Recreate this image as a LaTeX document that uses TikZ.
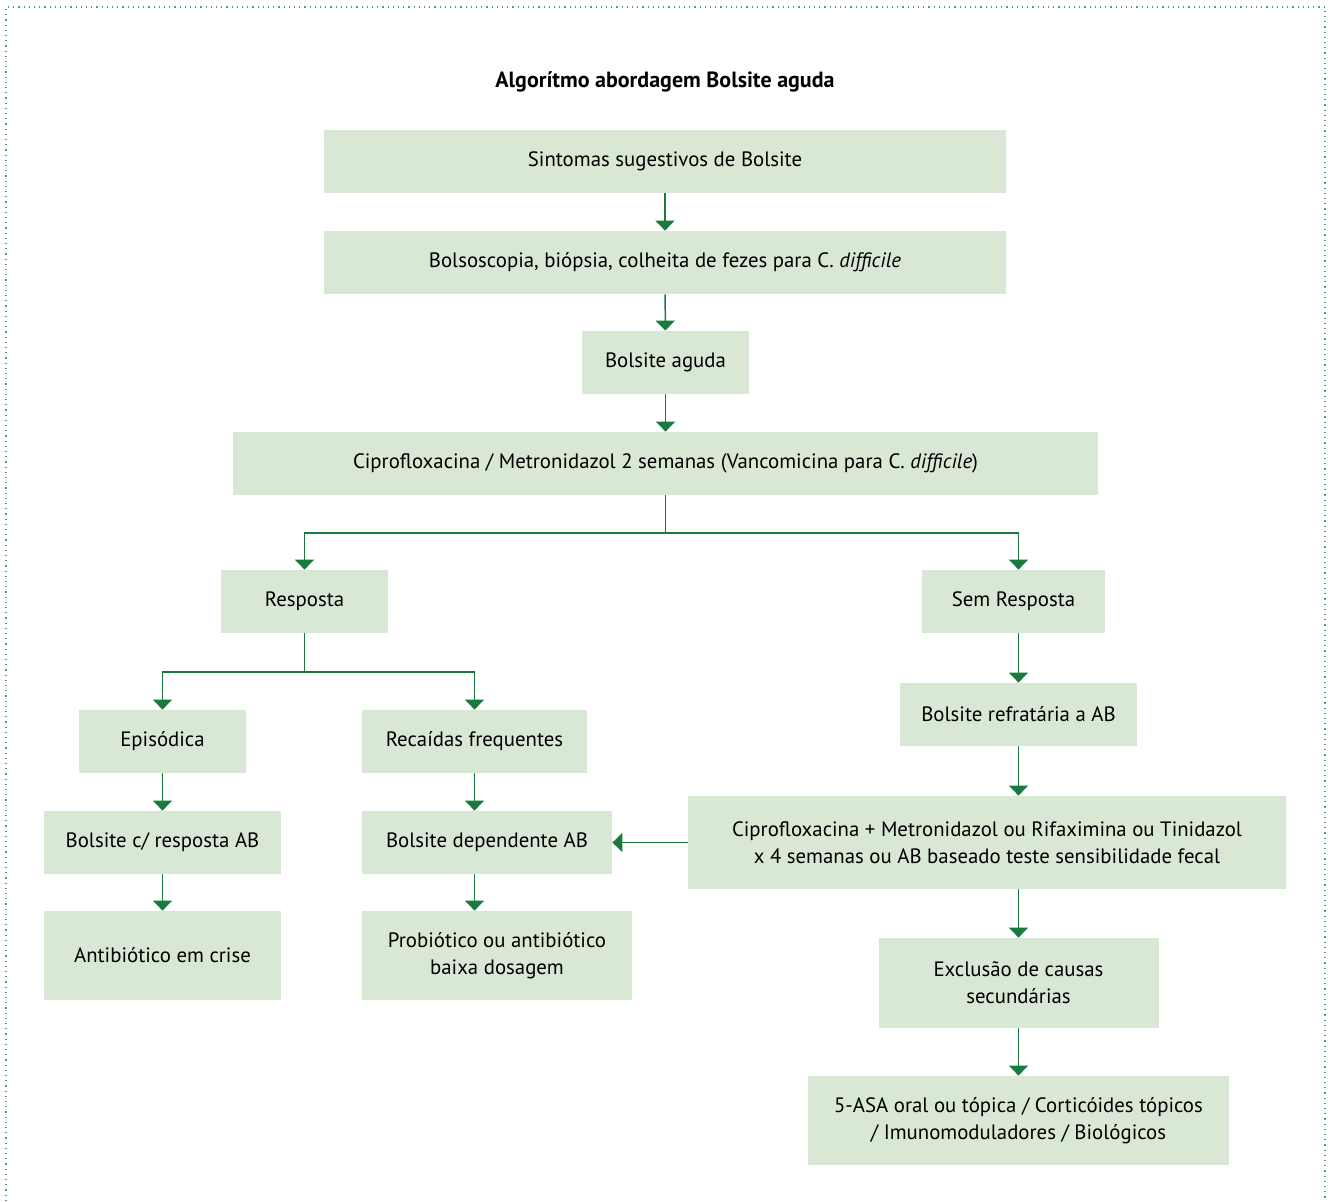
\documentclass[tikz,border=0pt]{standalone}
\usepackage{fontspec}
\setmainfont{PT Sans}
\usetikzlibrary{arrows.meta,positioning}
\definecolor{boxgreen}{RGB}{217,232,212}
\definecolor{arrowgreen}{RGB}{24,122,60}
\definecolor{frameblue}{RGB}{70,150,185}
\tikzset{
    algbox/.style={fill=boxgreen, align=center, inner sep=0pt,
        font=\fontsize{10.4}{13.5}\selectfont},
    algarrow/.style={-{Triangle[length=5pt,width=9.5pt]}, arrowgreen, line width=0.75pt}
}

\begin{document}
\begin{tikzpicture}[x=0.5pt, y=-0.5pt]
\useasboundingbox (0,0) rectangle (1331,1201);
\draw[frameblue, dotted, line width=0.6pt] (6,1201) -- (6,7) -- (1325,7) -- (1325,1201);

\node[font=\fontsize{11}{13}\selectfont\bfseries] (title) at (665,82) {Algorítmo abordagem Bolsite aguda};

% main column
\node[algbox, minimum width=341pt, minimum height=31.5pt] (sint) at (665,161.5) {Sintomas sugestivos de Bolsite};
\node[algbox, minimum width=341pt, minimum height=31.5pt] (bolso) at (665,262.5) {Bolsoscopia, biópsia, colheita de fezes para C. \textit{difficile}};
\node[algbox, minimum width=83.5pt, minimum height=31.5pt] (aguda) at (665.5,362.5) {Bolsite aguda};
\node[algbox, minimum width=432.5pt, minimum height=31.5pt] (cipro) at (665.5,463.5) {Ciprofloxacina / Metronidazol 2 semanas (Vancomicina para C. \textit{difficile})};

% left branch
\node[algbox, minimum width=83.5pt, minimum height=31.5pt] (resp) at (304.5,601.5) {Resposta};
\node[algbox, minimum width=83.5pt, minimum height=31.5pt] (epis) at (162.5,741.5) {Episódica};
\node[algbox, minimum width=112.5pt, minimum height=31.5pt] (recai) at (474.5,741.5) {Recaídas frequentes};
\node[algbox, minimum width=118.5pt, minimum height=31.5pt] (bresp) at (162.5,842.5) {Bolsite c/ resposta AB};
\node[algbox, minimum width=125pt, minimum height=31.5pt] (bdep) at (487,842.5) {Bolsite dependente AB};
\node[algbox, minimum width=118.5pt, minimum height=44.5pt] (crise) at (162.5,955.5) {Antibiótico em crise};
\node[algbox, minimum width=135pt, minimum height=44.5pt] (probio) at (497,955.5) {Probiótico ou antibiótico\\baixa dosagem};

% right branch
\node[algbox, minimum width=91.5pt, minimum height=31.5pt] (semresp) at (1013.5,601.5) {Sem Resposta};
\node[algbox, minimum width=118.5pt, minimum height=31.5pt] (refrat) at (1018.5,714.5) {Bolsite refratária a AB};
\node[algbox, minimum width=299pt, minimum height=46.5pt] (cipmet) at (987,842.5) {Ciprofloxacina + Metronidazol ou Rifaximina ou Tinidazol\\x 4 semanas ou AB baseado teste sensibilidade fecal};
\node[algbox, minimum width=140pt, minimum height=45pt] (exclus) at (1018.5,983) {Exclusão de causas\\secundárias};
\node[algbox, minimum width=210.5pt, minimum height=44.5pt] (asa) at (1018.5,1120.5) {5-ASA oral ou tópica / Corticóides tópicos\\/ Imunomoduladores / Biológicos};

\coordinate (split) at (665.5,533);
\coordinate (splitresp) at (304.5,672);

\draw[algarrow] (sint) -- (bolso);
\draw[algarrow] (bolso) -- (aguda);
\draw[algarrow] (aguda) -- (cipro);
\draw[arrowgreen, line width=0.75pt] (cipro) -- (split);
\draw[algarrow] (split) -| (resp.north);
\draw[algarrow] (split) -| (refrat.north |- semresp.north);
\draw[arrowgreen, line width=0.75pt] (resp) -- (splitresp);
\draw[algarrow] (splitresp) -| (epis.north);
\draw[algarrow] (splitresp) -| (recai.north);
\draw[algarrow] (epis) -- (bresp);
\draw[algarrow] (bresp) -- (crise);
\draw[algarrow] (recai.south) -- (recai.south |- bdep.north);
\draw[algarrow] (recai.south |- bdep.south) -- (recai.south |- probio.north);
\draw[algarrow] (refrat.north |- semresp.south) -- (refrat.north);
\draw[algarrow] (refrat.south) -- (refrat.south |- cipmet.north);
\draw[algarrow] (cipmet.west) -- (bdep.east);
\draw[algarrow] (exclus.north |- cipmet.south) -- (exclus.north);
\draw[algarrow] (exclus) -- (asa);
\end{tikzpicture}
\end{document}
